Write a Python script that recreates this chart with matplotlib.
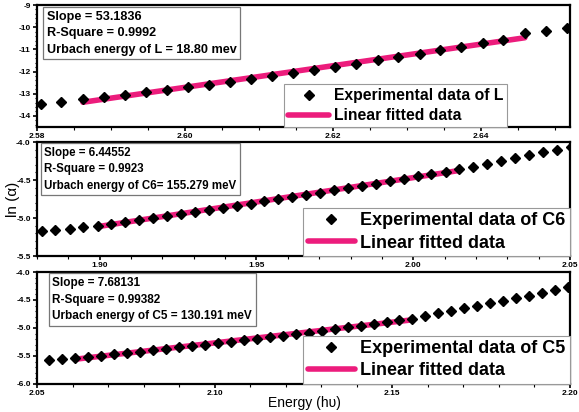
import matplotlib.pyplot as plt
import numpy as np

plt.rcParams['font.family'] = ['Liberation Sans', 'DejaVu Sans']

PINK = '#EC1C7C'

# ---- sample L ----
x_L = [2.5805, 2.5833, 2.5862, 2.5890, 2.5919, 2.5947, 2.5975, 2.6004, 2.6032,
       2.6061, 2.6089, 2.6118, 2.6146, 2.6174, 2.6203, 2.6231, 2.6260, 2.6288,
       2.6317, 2.6345, 2.6373, 2.6402, 2.6430, 2.6459, 2.6487, 2.6516]
y_L = [-13.46, -13.37, -13.25, -13.15, -13.05, -12.94, -12.83, -12.70, -12.59,
       -12.47, -12.35, -12.21, -12.07, -11.93, -11.79, -11.64, -11.49, -11.34,
       -11.19, -11.04, -10.88, -10.72, -10.56, -10.27, -10.15, -10.05]
fit_L = (2, 23)   # first / last point used in the linear fit

# ---- sample C6 ----
x_C6 = [1.8815, 1.8859, 1.8904, 1.8948, 1.8993, 1.9037, 1.9081, 1.9126, 1.9170,
        1.9215, 1.9259, 1.9303, 1.9348, 1.9392, 1.9437, 1.9481, 1.9525, 1.9570,
        1.9614, 1.9659, 1.9703, 1.9747, 1.9792, 1.9836, 1.9881, 1.9925, 1.9969,
        2.0014, 2.0058, 2.0103, 2.0147, 2.0191, 2.0236, 2.0280, 2.0325, 2.0369,
        2.0413, 2.0458, 2.0502]
y_C6 = [-5.170, -5.155, -5.140, -5.120, -5.100, -5.074, -5.048, -5.022, -4.996,
        -4.970, -4.944, -4.918, -4.892, -4.866, -4.840, -4.811, -4.782, -4.753,
        -4.724, -4.695, -4.666, -4.637, -4.608, -4.577, -4.546, -4.515, -4.484,
        -4.453, -4.422, -4.391, -4.360, -4.330, -4.290, -4.250, -4.210, -4.170,
        -4.130, -4.100, -4.070]
fit_C6 = (4, 30)

# ---- sample C5 ----
x_C5 = [2.0535, 2.0571, 2.0608, 2.0644, 2.0681, 2.0717, 2.0754, 2.0790, 2.0827,
        2.0863, 2.0900, 2.0936, 2.0973, 2.1009, 2.1046, 2.1082, 2.1119, 2.1155,
        2.1192, 2.1228, 2.1265, 2.1301, 2.1338, 2.1374, 2.1411, 2.1447, 2.1484,
        2.1520, 2.1556, 2.1593, 2.1629, 2.1666, 2.1702, 2.1739, 2.1775, 2.1812,
        2.1848, 2.1885, 2.1921, 2.1958, 2.1994]
y_C5 = [-5.575, -5.560, -5.540, -5.516, -5.492, -5.468, -5.444, -5.420, -5.396,
        -5.372, -5.348, -5.324, -5.297, -5.270, -5.243, -5.216, -5.189, -5.162,
        -5.135, -5.108, -5.081, -5.050, -5.019, -4.988, -4.957, -4.926, -4.895,
        -4.864, -4.833, -4.780, -4.740, -4.700, -4.650, -4.600, -4.555, -4.510,
        -4.465, -4.420, -4.370, -4.320, -4.260]
fit_C5 = (2, 28)

info_L = 'Slope = 53.1836\nR-Square = 0.9992\nUrbach energy of L = 18.80 mev'
info_C6 = 'Slope = 6.44552\nR-Square = 0.9923\nUrbach energy of C6= 155.279 meV'
info_C5 = 'Slope = 7.68131\nR-Square = 0.99382\nUrbach energy of C5 = 130.191 meV'

fig = plt.figure(figsize=(5.79, 4.12), dpi=100)


def panel(rect, x, y, fit, xlim, ylim, xticks, yticks, yfmt, info, info_pos,
          info_size, label, leg_size, leg_anchor):
    ax = fig.add_axes(rect)
    x = np.array(x)
    y = np.array(y)
    i0, i1 = fit
    coeffs = np.polyfit(x[i0:i1 + 1], y[i0:i1 + 1], 1)
    xf = np.array([x[i0], x[i1]])
    ax.plot(xf, np.polyval(coeffs, xf), color=PINK, lw=4, zorder=2,
            solid_capstyle='round', label='Linear fitted data')
    ax.plot(x, y, 'D', color='black', ms=5.3, zorder=3, ls='none',
            label='Experimental data of ' + label)
    ax.set_xlim(*xlim)
    ax.set_ylim(*ylim)
    ax.set_xticks(xticks)
    ax.set_yticks(yticks)
    ax.set_xticklabels(['%.2f' % v for v in xticks])
    ax.set_yticklabels([yfmt % v for v in yticks])
    ax.minorticks_on()
    ax.tick_params(which='major', labelsize=6, length=3, width=1.2, pad=1.5)
    ax.tick_params(which='minor', length=1.8, width=0.8)
    for lab in ax.get_xticklabels() + ax.get_yticklabels():
        lab.set_fontweight('bold')
    for s in ax.spines.values():
        s.set_linewidth(1.6)
    ax.text(info_pos[0], info_pos[1], info, transform=ax.transAxes,
            ha='left', va='top', fontsize=info_size, fontweight='bold',
            linespacing=1.5,
            bbox=dict(boxstyle='square,pad=0.3', fc='white', ec='#777777', lw=0.9))
    h, l = ax.get_legend_handles_labels()
    leg = ax.legend(h[::-1], l[::-1], loc='lower right', bbox_to_anchor=leg_anchor,
                    borderaxespad=0, fancybox=False, framealpha=1,
                    edgecolor='#999999', handlelength=2.6, handletextpad=0.3,
                    borderpad=0.25, labelspacing=0.3, markerscale=1.0,
                    prop={'size': leg_size, 'weight': 'bold'})
    leg.get_frame().set_linewidth(0.8)
    return ax


panel([0.0639, 0.6917, 0.9206, 0.2961], x_L, y_L, fit_L, (2.58, 2.652),
      (-14.5, -9), [2.58, 2.60, 2.62, 2.64], [-14, -13, -12, -11, -10, -9], '%d',
      info_L, (0.018, 0.955), 9.1, 'L', 11.3, (0.882, 0.0))

panel([0.0639, 0.3786, 0.9206, 0.2767], x_C6, y_C6, fit_C6, (1.88, 2.05),
      (-5.5, -4.0), [1.90, 1.95, 2.00, 2.05], [-5.5, -5.0, -4.5, -4.0], '%.1f',
      info_C6, (0.014, 0.96), 8.3, 'C6', 13, (1.0, 0.0))

ax3 = panel([0.0639, 0.0680, 0.9206, 0.2718], x_C5, y_C5, fit_C5, (2.05, 2.20),
            (-6.0, -4.0), [2.05, 2.10, 2.15, 2.20], [-6.0, -5.5, -5.0, -4.5, -4.0],
            '%.1f', info_C5, (0.029, 0.955), 8.5, 'C5', 13, (1.0, 0.0))

fig.text(0.525, 0.004, 'Energy (hυ)', ha='center', va='bottom', fontsize=10)
fig.text(0.022, 0.515, 'ln (α)', rotation=90, ha='center', va='center', fontsize=11)

fig.savefig('out.png', dpi=100)
